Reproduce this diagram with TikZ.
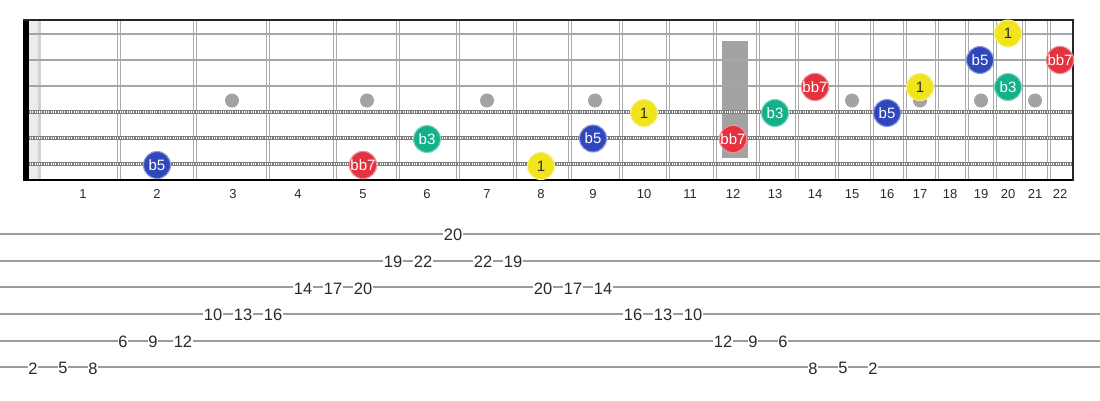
\documentclass[tikz,border=0pt]{standalone}
\usepackage{fontspec}
\setmainfont{Liberation Sans}
\definecolor{fretc}{HTML}{ABABAB}
\definecolor{strc}{HTML}{A6A6A6}
\definecolor{woundc}{HTML}{7E7E7E}
\definecolor{markc}{HTML}{A3A3A3}
\definecolor{tabc}{HTML}{9C9C9C}
\definecolor{cblue}{HTML}{2E48BC}
\definecolor{cred}{HTML}{E4323F}
\definecolor{cteal}{HTML}{14B08A}
\definecolor{cyel}{HTML}{F1E41C}
\definecolor{txt}{HTML}{2A2A2A}
\tikzset{
  fretline/.style={draw=fretc, line width=1.3pt, double=white, double distance=1.6pt},
  plainstr/.style={draw=strc, line width=2.8pt},
  woundstr/.style={draw=woundc, line width=4pt},
  woundtex/.style={draw=white, line width=2pt, dash pattern=on 1pt off 1.3pt},
  marker/.style={circle, fill=markc, minimum size=14pt, inner sep=0pt},
  fretnum/.style={font=\fontsize{13}{13}\selectfont, text=txt, inner sep=0pt},
  note/.style={circle, minimum size=27pt, inner sep=0pt, fill=#1, draw=#1!55!white, line width=1.1pt, text=white, font=\fontsize{15}{15}\selectfont},
  rootnote/.style={note=cyel, text=txt},
  tabline/.style={draw=tabc, line width=1.8pt},
  tabnum/.style={font=\fontsize{16.5}{16.5}\selectfont, text=txt, fill=white, inner sep=0.4pt},
}
\begin{document}
\begin{tikzpicture}[x=1pt,y=-1pt]
\useasboundingbox (0,0) rectangle (1100,400);
\fill[white] (0,0) rectangle (1100,400);
% light strip near the nut
\fill[gray!15] (29,19) rectangle (41,180);
\fill[gray!35] (37.5,19) rectangle (41,180);
% 12th fret bar
\fill[markc] (722,41) rectangle (748,158);
% frets
\foreach \x in {119,195,268,335,398,458,515,570,621,668,715,758,797,837,872,905,937,967,995,1024,1049}
  \draw[fretline] (\x,19) -- (\x,180);
% position markers
\foreach \x [count=\i] in {232,367,487,595,852,920,981,1035}
  \node[marker] (mk\i) at (\x,100.5) {};
% strings
\foreach \y in {34,60,86}
  \draw[plainstr] (23,\y) -- (1073,\y);
\foreach \y in {112,138,164}{
  \draw[woundstr] (23,\y) -- (1073,\y);
  \draw[woundtex] (23,\y) -- (1073,\y);
}
% borders and nut
\fill[black] (23,19) rectangle (28.5,180.5);
\draw[line width=2pt, draw=black!85] (23,19.5) -- (1074,19.5);
\draw[line width=2pt, draw=black] (23,180) -- (1074,180);
\draw[line width=2pt, draw=black!85] (1073,19) -- (1073,181);
% fret numbers
\foreach \n/\x in {1/83,2/157,3/233,4/298,5/363,6/427,7/487,8/541,9/593,10/644,11/690,12/733,13/775,14/815,15/852,16/887,17/920,18/950,19/981,20/1008,21/1035,22/1060}
  \node[fretnum] (fn\n) at (\x,194) {\n};
% notes
\node[note=cblue] (nA) at (157,165) {b5};
\node[note=cred] (nB) at (363,165) {bb7};
\node[note=cteal] (nC) at (427,139) {b3};
\node[rootnote] (nD) at (541,166) {1};
\node[note=cblue] (nE) at (593,138.5) {b5};
\node[rootnote] (nF) at (644,113) {1};
\node[note=cred] (nG) at (733,139) {bb7};
\node[note=cteal] (nH) at (775,113) {b3};
\node[note=cred] (nI) at (815,87) {bb7};
\node[note=cblue] (nJ) at (887,113) {b5};
\node[rootnote] (nK) at (920,87) {1};
\node[note=cblue] (nL) at (980,60) {b5};
\node[note=cteal] (nM) at (1008,87) {b3};
\node[rootnote] (nN) at (1008,33.5) {1};
\node[note=cred] (nO) at (1060,60) {bb7};
% tab lines
\foreach \s in {1,...,6}
  \draw[tabline] (0,{234+(\s-1)*26.67}) -- (1100,{234+(\s-1)*26.67});
% tab numbers
\foreach \v/\s [count=\k from 0] in {2/6,5/6,8/6,6/5,9/5,12/5,10/4,13/4,16/4,14/3,17/3,20/3,19/2,22/2,20/1,22/2,19/2,20/3,17/3,14/3,16/4,13/4,10/4,12/5,9/5,6/5,8/6,5/6,2/6}
  \node[tabnum] (t\k) at ({33+30*\k},{234+(\s-1)*26.67+1}) {\v};
\end{tikzpicture}
\end{document}
